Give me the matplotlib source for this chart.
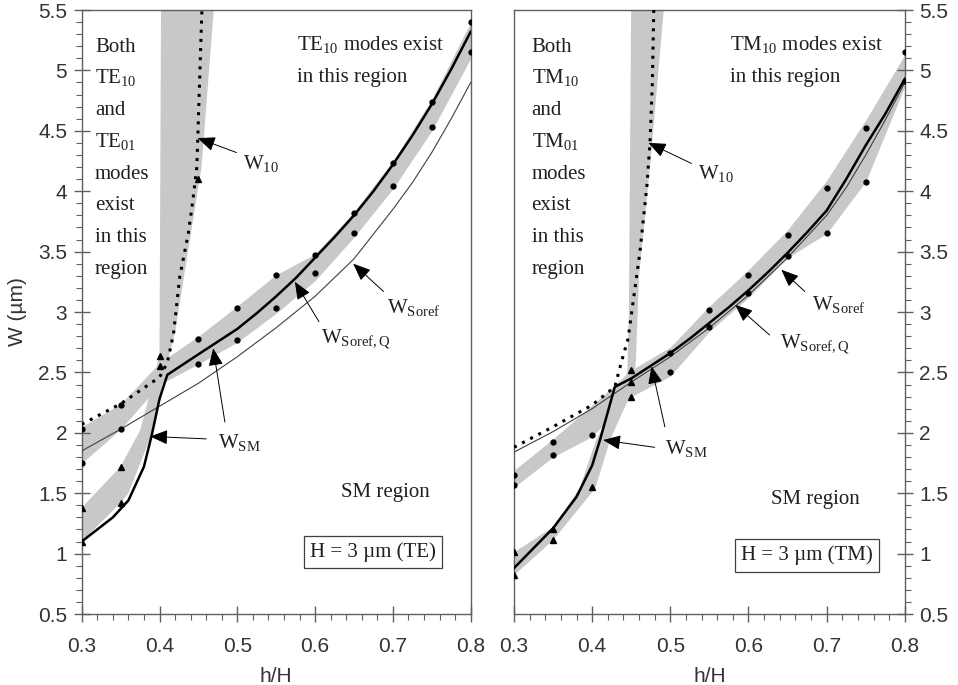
import numpy as np
import matplotlib
matplotlib.use('Agg')
import matplotlib.pyplot as plt
from matplotlib.ticker import MultipleLocator

plt.rcParams['font.family'] = ['Liberation Sans', 'DejaVu Sans']
plt.rcParams['mathtext.fontset'] = 'custom'
plt.rcParams['mathtext.rm'] = 'Liberation Serif'
plt.rcParams['mathtext.it'] = 'Liberation Serif:italic'

# ---- TE panel data ----
te_x = [0.3, 0.35, 0.4, 0.45, 0.5, 0.55, 0.6, 0.65, 0.7, 0.75, 0.8]
te_band_lo = [1.75, 2.03, 2.40, 2.57, 2.75, 2.99, 3.26, 3.62, 4.02, 4.50, 5.10]
te_band_hi = [2.05, 2.24, 2.58, 2.80, 3.05, 3.31, 3.48, 3.83, 4.25, 4.76, 5.40]

te_soref_x = [0.3, 0.35, 0.4, 0.45, 0.5, 0.55, 0.6, 0.65, 0.7, 0.725, 0.75, 0.775, 0.8]
te_soref_y = [1.85, 2.03, 2.22, 2.41, 2.63, 2.87, 3.13, 3.44, 3.85, 4.07, 4.32, 4.60, 4.90]

te_sm_x = [0.3, 0.32, 0.34, 0.36, 0.38, 0.39, 0.40, 0.41, 0.45, 0.5, 0.525, 0.55, 0.575,
           0.6, 0.625, 0.65, 0.675, 0.7, 0.725, 0.75, 0.775, 0.8]
te_sm_y = [1.10, 1.20, 1.30, 1.44, 1.72, 1.98, 2.28, 2.48, 2.65, 2.86, 2.99, 3.13, 3.28,
           3.45, 3.62, 3.80, 4.00, 4.22, 4.46, 4.72, 5.01, 5.32]

te_w10_x = [0.3, 0.35, 0.4, 0.41, 0.418, 0.426, 0.437, 0.443, 0.448, 0.451, 0.455]
te_w10_y = [2.07, 2.24, 2.46, 2.58, 2.82, 3.29, 3.65, 3.93, 4.20, 4.80, 5.60]

te_dot_x = [0.3, 0.3, 0.35, 0.35, 0.45, 0.45, 0.5, 0.5, 0.55, 0.55, 0.6, 0.6,
            0.65, 0.65, 0.7, 0.7, 0.75, 0.75, 0.8, 0.8]
te_dot_y = [2.03, 1.75, 2.23, 2.03, 2.78, 2.57, 3.03, 2.77, 3.31, 3.03, 3.47, 3.32,
            3.82, 3.65, 4.23, 4.04, 4.74, 4.53, 5.40, 5.15]
te_tri_x = [0.3, 0.3, 0.35, 0.35, 0.4, 0.4, 0.45]
te_tri_y = [1.38, 1.10, 1.72, 1.42, 2.64, 2.55, 4.10]

te_smband_x = [0.3, 0.35, 0.375, 0.395, 0.40, 0.402, 0.471, 0.454, 0.42, 0.405, 0.392, 0.36, 0.35, 0.3]
te_smband_y = [1.38, 1.72, 2.02, 2.50, 2.66, 5.60, 5.60, 4.20, 2.83, 2.45, 2.02, 1.50, 1.42, 1.10]

# ---- TM panel data ----
tm_x = [0.3, 0.35, 0.4, 0.45, 0.5, 0.55, 0.6, 0.65, 0.7, 0.75, 0.8]
tm_band_lo = [1.55, 1.80, 1.97, 2.30, 2.47, 2.84, 3.12, 3.45, 3.65, 4.08, 4.87]
tm_band_hi = [1.69, 1.95, 2.23, 2.52, 2.71, 3.05, 3.35, 3.68, 4.09, 4.59, 5.13]

tm_soref_x = [0.3, 0.35, 0.4, 0.45, 0.5, 0.55, 0.6, 0.65, 0.7, 0.725, 0.75, 0.775, 0.8]
tm_soref_y = [1.84, 2.01, 2.20, 2.42, 2.63, 2.87, 3.14, 3.45, 3.80, 4.03, 4.30, 4.59, 4.90]

tm_sm_x = [0.3, 0.35, 0.38, 0.4, 0.41, 0.429, 0.45, 0.5, 0.525, 0.55, 0.575, 0.6, 0.625,
           0.65, 0.675, 0.7, 0.725, 0.75, 0.775, 0.8]
tm_sm_y = [0.88, 1.21, 1.47, 1.73, 1.94, 2.38, 2.45, 2.66, 2.78, 2.91, 3.04, 3.18, 3.33,
           3.49, 3.66, 3.84, 4.10, 4.38, 4.64, 4.93]

tm_w10_x = [0.3, 0.35, 0.4, 0.429, 0.438, 0.446, 0.461, 0.47, 0.474, 0.477, 0.479]
tm_w10_y = [1.88, 2.05, 2.23, 2.38, 2.60, 2.78, 3.49, 4.04, 4.40, 4.89, 5.55]

tm_dot_x = [0.3, 0.3, 0.35, 0.35, 0.4, 0.5, 0.5, 0.55, 0.55, 0.6, 0.6,
            0.65, 0.65, 0.7, 0.7, 0.75, 0.75, 0.8, 0.8]
tm_dot_y = [1.65, 1.57, 1.92, 1.82, 1.98, 2.66, 2.50, 3.02, 2.88, 3.31, 3.16,
            3.64, 3.46, 4.03, 3.65, 4.52, 4.08, 5.15, 4.91]
tm_tri_x = [0.3, 0.3, 0.35, 0.35, 0.4, 0.45, 0.45, 0.45]
tm_tri_y = [1.01, 0.82, 1.20, 1.11, 1.55, 2.52, 2.42, 2.30]

tm_smband_x = [0.3, 0.35, 0.384, 0.405, 0.423, 0.445, 0.447, 0.45, 0.493, 0.474, 0.46, 0.456, 0.452, 0.438, 0.423, 0.404, 0.35, 0.3]
tm_smband_y = [1.01, 1.22, 1.54, 1.94, 2.16, 2.50, 3.00, 5.60, 5.60, 4.20, 3.30, 2.60, 2.35, 2.16, 1.94, 1.54, 1.11, 0.82]

BAND = '#c8c8c8'
SPINE = '#606060'
TICKTXT = '#333333'
SERIF = 'Liberation Serif'
FS = 15

fig = plt.figure(figsize=(9.58, 6.85), dpi=100)
ax1 = fig.add_axes([0.0853, 0.1036, 0.406, 0.8818])
ax2 = fig.add_axes([0.5365, 0.1036, 0.408, 0.8818])


def draw_panel(ax, x, lo, hi, sx, sy, smx, smy, w10x, w10y, dx, dy, tx, ty, bx, by):
    ax.fill_between(x, lo, hi, color=BAND, lw=0, zorder=1)
    ax.fill(bx, by, color=BAND, lw=0, zorder=1)
    ax.plot(sx, sy, color='#404040', lw=0.8, zorder=3)
    ax.plot(w10x, w10y, color='black', lw=2.2, dashes=(1, 2), zorder=4)
    ax.plot(smx, smy, color='black', lw=1.8, zorder=5)
    ax.plot(dx, dy, 'o', color='black', ms=3.5, zorder=6)
    ax.plot(tx, ty, '^', color='black', ms=4, zorder=6)
    ax.set_xlim(0.3, 0.8)
    ax.set_ylim(0.5, 5.5)
    ax.xaxis.set_major_locator(MultipleLocator(0.1))
    ax.xaxis.set_minor_locator(MultipleLocator(0.02))
    ax.yaxis.set_major_locator(MultipleLocator(0.5))
    ax.yaxis.set_minor_locator(MultipleLocator(0.1))
    ax.xaxis.set_major_formatter(plt.FuncFormatter(lambda v, p: f'{v:g}'))
    ax.yaxis.set_major_formatter(plt.FuncFormatter(lambda v, p: f'{v:g}'))
    ax.tick_params(which='major', direction='inout', length=11, width=1.0,
                   color=SPINE, labelsize=15, labelcolor=TICKTXT, pad=5)
    ax.tick_params(which='minor', direction='out', length=4.5, width=0.8, color=SPINE)
    ax.tick_params(axis='x', which='major', pad=11)
    for s in ax.spines.values():
        s.set_color(SPINE)
        s.set_linewidth(1.0)
    ax.set_xlabel('h/H', fontsize=15, color=TICKTXT, labelpad=8)


def arrow(ax, tip, tail):
    ax.annotate('', xy=tip, xytext=tail,
                arrowprops=dict(arrowstyle='-|>,head_length=0.6,head_width=0.25',
                                mutation_scale=18, color='black', lw=0.7,
                                shrinkA=0, shrinkB=0), zorder=7)


def label(ax, x, y, s, **kw):
    ax.text(x, y, s, family=SERIF, fontsize=FS, color='#202020', **kw)


draw_panel(ax1, te_x, te_band_lo, te_band_hi, te_soref_x, te_soref_y, te_sm_x, te_sm_y,
           te_w10_x, te_w10_y, te_dot_x, te_dot_y, te_tri_x, te_tri_y,
           te_smband_x, te_smband_y)
draw_panel(ax2, tm_x, tm_band_lo, tm_band_hi, tm_soref_x, tm_soref_y, tm_sm_x, tm_sm_y,
           tm_w10_x, tm_w10_y, tm_dot_x, tm_dot_y, tm_tri_x, tm_tri_y,
           tm_smband_x, tm_smband_y)

ax1.set_ylabel('W (\u00b5m)', fontsize=15, color=TICKTXT, labelpad=8)
ax1.tick_params(axis='y', which='both', left=True, right=False)
ax2.yaxis.tick_right()
ax2.tick_params(axis='y', which='both', left=False, right=True)

# region texts
for ax, m, bx in [(ax1, 'TE', 0.034), (ax2, 'TM', 0.045)]:
    lines = ['Both', m + '$_{\\mathrm{10}}$', 'and', m + '$_{\\mathrm{01}}$',
             'modes', 'exist', 'in this', 'region']
    for k, s in enumerate(lines):
        label(ax, bx, 0.931 - 0.0525 * k, s, transform=ax.transAxes,
              ha='left', va='baseline')
    label(ax, 0.553, 0.934, m + '$_{\\mathrm{10}}$ modes exist',
          transform=ax.transAxes, ha='left', va='baseline')
    label(ax, 0.553, 0.881, 'in this region', transform=ax.transAxes,
          ha='left', va='baseline')

label(ax1, 0.781, 0.202, 'SM region', transform=ax1.transAxes, ha='center', va='center')
label(ax2, 0.771, 0.189, 'SM region', transform=ax2.transAxes, ha='center', va='center')
label(ax1, 0.749, 0.103, 'H = 3 \u00b5m (TE)', transform=ax1.transAxes, ha='center',
      va='center', bbox=dict(boxstyle='square,pad=0.3', fc='white', ec='#404040', lw=0.9))
label(ax2, 0.749, 0.097, 'H = 3 \u00b5m (TM)', transform=ax2.transAxes, ha='center',
      va='center', bbox=dict(boxstyle='square,pad=0.3', fc='white', ec='#404040', lw=0.9))

W10 = 'W$_{\\mathrm{10}}$'
WS = 'W$_{\\mathrm{Soref}}$'
WQ = 'W$_{\\mathrm{Soref,Q}}$'
WSM = 'W$_{\\mathrm{SM}}$'

# TE annotations
label(ax1, 0.507, 4.23, W10, ha='left', va='center')
arrow(ax1, (0.449, 4.44), (0.499, 4.32))
label(ax1, 0.692, 3.04, WS, ha='left', va='center')
arrow(ax1, (0.649, 3.40), (0.688, 3.17))
label(ax1, 0.608, 2.77, WQ, ha='left', va='center')
arrow(ax1, (0.574, 3.25), (0.605, 2.92))
label(ax1, 0.475, 1.92, WSM, ha='left', va='center')
arrow(ax1, (0.388, 1.97), (0.46, 1.95))
arrow(ax1, (0.469, 2.70), (0.484, 2.09))

# TM annotations
label(ax2, 0.536, 4.15, W10, ha='left', va='center')
arrow(ax2, (0.472, 4.40), (0.527, 4.23))
label(ax2, 0.681, 3.06, WS, ha='left', va='center')
arrow(ax2, (0.642, 3.35), (0.672, 3.17))
label(ax2, 0.640, 2.73, WQ, ha='left', va='center')
arrow(ax2, (0.583, 3.06), (0.627, 2.81))
label(ax2, 0.493, 1.87, WSM, ha='left', va='center')
arrow(ax2, (0.414, 1.94), (0.480, 1.88))
arrow(ax2, (0.476, 2.55), (0.493, 2.05))

fig.savefig('out.png', dpi=100)
